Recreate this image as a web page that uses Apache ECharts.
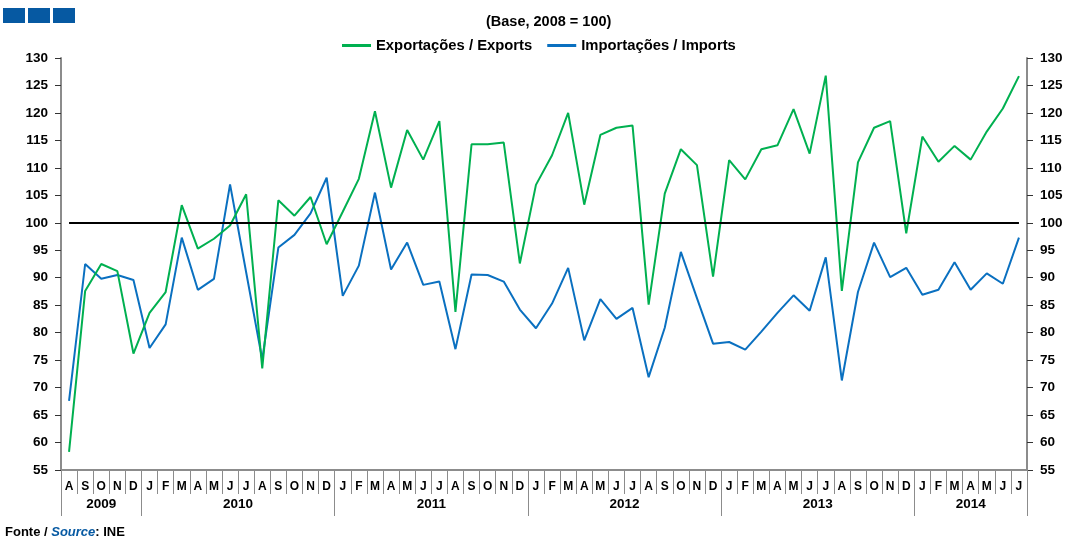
<!DOCTYPE html>
<html>
<head>
<meta charset="utf-8">
<script src="https://cdn.jsdelivr.net/npm/echarts@6/dist/echarts.min.js"></script>
<style>
  html, body { margin: 0; padding: 0; background: #fff; }
  #chart { width: 1070px; height: 540px; }
</style>
</head>
<body>
<div id="chart"></div>
<script>
// meses (Ago 2009 - Jul 2014)
const months2009 = ['A', 'S', 'O', 'N', 'D']
const monthsFull = ['J', 'F', 'M', 'A', 'M', 'J', 'J', 'A', 'S', 'O', 'N', 'D']
const months2014 = ['J', 'F', 'M', 'A', 'M', 'J', 'J']
const months = months2009.concat(monthsFull, monthsFull, monthsFull, monthsFull, months2014)

const years = ['2009', '2010', '2011', '2012', '2013', '2014']
const yearLengths = [5, 12, 12, 12, 12, 7]

const exportsIdx = [58.3, 87.6, 92.5, 91.2, 76.2, 83.6, 87.4, 103.2, 95.3, 97.1,
  99.5, 105.2, 73.5, 104.1, 101.3, 104.7, 96.1, 102.0, 108.0, 120.3,
  106.4, 116.9, 111.5, 118.5, 83.8, 114.3, 114.3, 114.6, 92.6, 106.9,
  112.3, 120.0, 103.3, 116.0, 117.3, 117.7, 85.1, 105.3, 113.4, 110.5,
  90.2, 111.4, 107.9, 113.4, 114.1, 120.7, 112.6, 126.8, 87.6, 111.0,
  117.3, 118.5, 98.1, 115.7, 111.1, 114.0, 111.5, 116.6, 120.8, 126.7]

const importsIdx = [67.6, 92.5, 89.8, 90.5, 89.6, 77.2, 81.5, 97.3, 87.8, 89.8,
  107.0, 91.0, 75.1, 95.5, 97.8, 101.7, 108.2, 86.7, 92.2, 105.5,
  91.5, 96.4, 88.7, 89.3, 77.0, 90.6, 90.5, 89.3, 84.2, 80.8,
  85.3, 91.8, 78.6, 86.1, 82.5, 84.5, 71.9, 80.9, 94.7, 86.3,
  78.0, 78.3, 76.9, 80.2, 83.6, 86.8, 84.0, 93.7, 71.3, 87.4,
  96.4, 90.1, 91.8, 86.9, 87.8, 92.8, 87.8, 90.8, 88.9, 97.3]

const baseValue = 100

// limites e centros dos anos no eixo inferior
const yearBounds = [0]
const yearCenters = []
yearLengths.forEach((n, i) => {
  yearCenters.push(yearBounds[i] + n / 2)
  yearBounds.push(yearBounds[i] + n)
})

const FONT = 'Liberation Sans'
const GREEN = '#00b050'
const BLUE = '#0a70c0'
const AXIS_GRAY = '#8c8c8c'

const chart = echarts.init(document.getElementById('chart'))

const yAxisBase = {
  type: 'value',
  min: 55,
  max: 130,
  interval: 5,
  splitLine: { show: false },
  axisLine: { show: true, lineStyle: { color: AXIS_GRAY, width: 2 } },
  axisTick: { show: true, length: 6, lineStyle: { color: '#333' } },
  axisLabel: { color: '#000', fontFamily: FONT, fontWeight: 'bold', fontSize: 13.5, margin: 13 }
}

chart.setOption({
  animation: false,
  title: {
    text: '(Base, 2008 = 100)',
    left: 481,
    top: 9,
    textStyle: { fontFamily: FONT, fontWeight: 'bold', fontSize: 14.5, color: '#000' }
  },
  legend: {
    top: 33,
    left: 337,
    icon: 'rect',
    itemWidth: 29,
    itemHeight: 3,
    itemGap: 15,
    textStyle: { fontFamily: FONT, fontWeight: 'bold', fontSize: 14.8, color: '#000' },
    data: ['Exportações / Exports', 'Importações / Imports']
  },
  grid: { left: 61, right: 43, top: 58, bottom: 70 },
  xAxis: [
    {
      type: 'category',
      data: months,
      position: 'bottom',
      axisLine: { show: true, lineStyle: { color: AXIS_GRAY, width: 2 } },
      axisTick: { show: true, interval: 0, length: 24, lineStyle: { color: AXIS_GRAY } },
      axisLabel: { interval: 0, margin: 11, color: '#000', fontFamily: FONT, fontWeight: 'bold', fontSize: 12 }
    },
    {
      type: 'value',
      min: 0,
      max: months.length,
      position: 'bottom',
      offset: 24,
      splitLine: { show: false },
      axisLine: { show: false },
      axisTick: { show: true, length: 22, customValues: yearBounds, lineStyle: { color: AXIS_GRAY } },
      axisLabel: {
        customValues: yearCenters,
        margin: 3,
        color: '#000',
        fontFamily: FONT,
        fontWeight: 'bold',
        fontSize: 13.5,
        formatter: (v) => {
          const i = yearCenters.indexOf(v)
          return i >= 0 ? years[i] : ''
        }
      }
    }
  ],
  yAxis: [
    Object.assign({ position: 'left' }, yAxisBase),
    Object.assign({ position: 'right' }, yAxisBase)
  ],
  series: [
    {
      name: 'Exportações / Exports',
      type: 'line',
      data: exportsIdx,
      symbol: 'none',
      lineStyle: { color: GREEN, width: 2 },
      itemStyle: { color: GREEN },
      z: 3,
      markLine: {
        silent: true,
        symbol: 'none',
        label: { show: false },
        lineStyle: { color: '#000', width: 2, type: 'solid' },
        data: [[{ coord: [0, baseValue] }, { coord: [months.length - 1, baseValue] }]]
      }
    },
    {
      name: 'Importações / Imports',
      type: 'line',
      data: importsIdx,
      symbol: 'none',
      lineStyle: { color: BLUE, width: 2 },
      itemStyle: { color: BLUE },
      z: 2
    }
  ],
  graphic: [
    { type: 'rect', left: 3, top: 8, shape: { width: 22, height: 15 }, style: { fill: '#0659a2' } },
    { type: 'rect', left: 28, top: 8, shape: { width: 22, height: 15 }, style: { fill: '#0659a2' } },
    { type: 'rect', left: 53, top: 8, shape: { width: 22, height: 15 }, style: { fill: '#0659a2' } },
    {
      type: 'text',
      left: 5,
      top: 526,
      style: {
        text: '{a|Fonte / }{b|Source}{a|: INE}',
        rich: {
          a: { fontFamily: FONT, fontWeight: 'bold', fontSize: 13, fill: '#000' },
          b: { fontFamily: FONT, fontWeight: 'bold', fontStyle: 'italic', fontSize: 13, fill: '#0659a2' }
        }
      }
    }
  ]
})

window.addEventListener('resize', () => chart.resize())
</script>
</body>
</html>
